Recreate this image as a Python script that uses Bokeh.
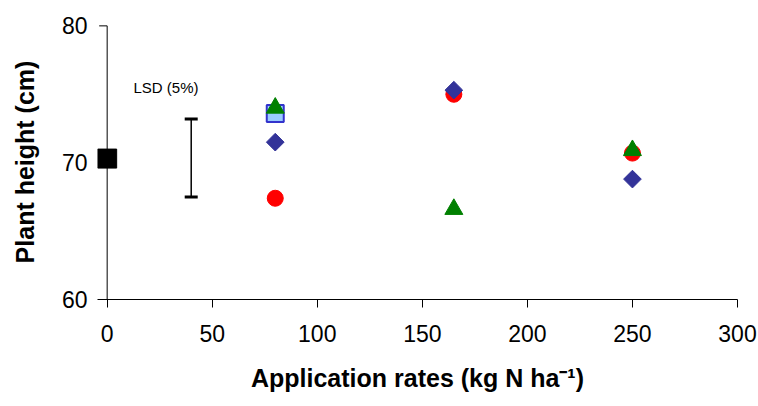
import math
from bokeh.plotting import figure
from bokeh.models import FixedTicker
from bokeh.core.properties import value
from bokeh.embed import file_html
from bokeh.resources import INLINE

# ---- data ----
control_x = [0]
control_y = [70.3]

rates = [80, 165, 250]
series_diamond = [71.5, 75.3, 68.8]
series_circle = [67.4, 75.0, 70.7]
series_triangle = [74.0, 66.6, 70.9]
square_x = [80]
series_square = [73.6]

lsd_x = [40]
lsd_low = [67.5]
lsd_high = [73.2]
lsd_label = ["LSD (5%)"]
lsd_label_x = [28]
lsd_label_y = [75.5]

x_ticks = [0, 50, 100, 150, 200, 250, 300]
y_ticks = [60, 70, 80]

FONT = "Liberation Sans"
X_MIN, X_MAX = -4.6, 300
Y_MIN, Y_MAX = 60, 80.1
TICK_LEN = 3.8  # y tick length in x data units (about 8 px)

p = figure(width=758, height=406, x_range=(X_MIN, X_MAX), y_range=(Y_MIN, Y_MAX),
           output_backend="svg", toolbar_location=None,
           min_border_left=97, min_border_right=21,
           min_border_top=24, min_border_bottom=107)
p.outline_line_color = None
p.grid.grid_line_color = None
p.background_fill_color = "white"
p.border_fill_color = "white"

for ax in (p.xaxis[0], p.yaxis[0]):
    ax.axis_line_color = "black"
    ax.axis_line_width = 1
    ax.major_tick_line_color = "black"
    ax.major_tick_in = 0
    ax.major_tick_out = 8
    ax.minor_tick_line_color = None
    ax.major_label_text_font = FONT
    ax.major_label_text_font_size = "23px"
    ax.major_label_text_color = "black"
    ax.axis_label_text_font = FONT
    ax.axis_label_text_font_style = "bold"
    ax.axis_label_text_font_size = "25px"
    ax.axis_label_text_color = "black"

p.xaxis.ticker = FixedTicker(ticks=x_ticks)
p.yaxis.ticker = FixedTicker(ticks=y_ticks)
p.xaxis.major_label_standoff = 17
p.xaxis.axis_label = "Application rates (kg N ha\u207b\u00b9)"
p.xaxis.axis_label_standoff = 19

# y axis: labels from Bokeh's axis, line and ticks drawn at x = 0
p.yaxis.axis_line_color = None
p.yaxis.major_tick_line_color = None
p.yaxis.major_tick_out = 0
p.yaxis.major_label_standoff = 10
p.yaxis.axis_label = "Plant height (cm)"
p.yaxis.axis_label_standoff = 20

p.segment(x0=[0], y0=[y_ticks[0]], x1=[0], y1=[y_ticks[-1]], line_color="black", line_width=1)
p.segment(x0=[-TICK_LEN] * len(y_ticks), y0=y_ticks, x1=[0] * len(y_ticks), y1=y_ticks,
          line_color="black", line_width=1)

# LSD bar
p.segment(x0=lsd_x, y0=lsd_low, x1=lsd_x, y1=lsd_high, line_color="black", line_width=1.5)
p.scatter(x=lsd_x + lsd_x, y=lsd_low + lsd_high, marker="dash", size=13,
          line_color="black", line_width=3)
p.text(x=lsd_label_x, y=lsd_label_y, text=lsd_label, text_font=value(FONT),
       text_font_size="15px", text_align="center", text_baseline="middle",
       text_color="black")

# control
p.scatter(x=control_x, y=control_y, marker="square", size=19,
          fill_color="black", line_color="black")

# series
p.scatter(x=square_x, y=series_square, marker="square", size=17,
          fill_color="#99CCFF", line_color="#3333CC", line_width=2)
p.scatter(x=rates, y=series_circle, marker="circle", size=16,
          fill_color="#FF0000", line_color="#FF0000")
p.scatter(x=rates, y=series_diamond, marker="square", size=12.5, angle=math.pi / 4,
          fill_color="#333399", line_color="#333399")
p.scatter(x=rates, y=series_triangle, marker="triangle", size=18,
          fill_color="#008000", line_color="#008000")

open("out.html", "w").write(file_html(p, INLINE))
